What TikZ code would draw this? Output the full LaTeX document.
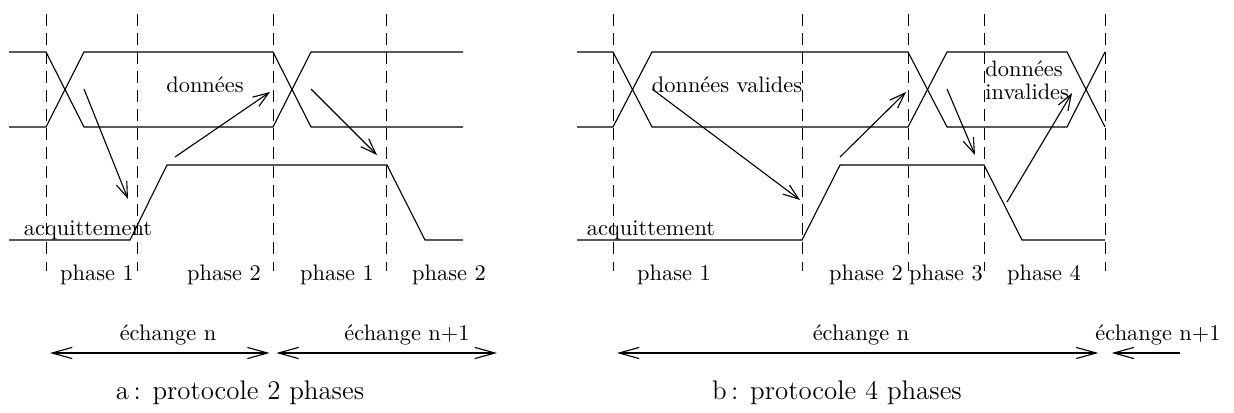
\documentclass[tikz,border=0pt]{standalone}
\usepackage{fontspec}
\usepackage{tikz}
\usetikzlibrary{arrows.meta}

\begin{document}
\begin{tikzpicture}[x=0.4464pt, y=-0.4464pt, every node/.style={inner sep=0pt, anchor=base}]
\tikzset{sig/.style={line width=0.5pt}}
\tikzset{phaseline/.style={line width=0.4pt, dash pattern=on 5.2pt off 3.3pt}}
\tikzset{flow/.style={line width=0.5pt, -{Straight Barb[length=7pt,width=5pt]}}}
\tikzset{xch/.style={line width=0.5pt, {Straight Barb[length=9pt,width=5pt]}-{Straight Barb[length=9pt,width=5pt]}}}
\tikzset{caption/.style={font=\fontsize{12}{14}\selectfont}}
\useasboundingbox (0,0) rectangle (1234,413);
% phase boundaries
\foreach \x in {46,137,273,386,613,802,908,984,1105}
  \draw[phaseline] (\x,14) -- (\x,271);
% a : 2 phases
\draw[sig] (9,52) -- (46,52) -- (84,127) -- (273,127) -- (311,52) -- (463,52);
\draw[sig] (9,127) -- (46,127) -- (84,52) -- (273,52) -- (311,127) -- (463,127);
\draw[sig] (9,240) -- (130,240) -- (167,165) -- (387,165) -- (425,240) -- (463,240);
\coordinate (a1s) at (84,89);  \coordinate (a1e) at (128,199);
\coordinate (a2s) at (175,157); \coordinate (a2e) at (270,92);
\coordinate (a3s) at (311,89); \coordinate (a3e) at (377,155);
\draw[flow] (a1s) -- (a1e);
\draw[flow] (a2s) -- (a2e);
\draw[flow] (a3s) -- (a3e);
\node (dona) at (205,93) {données};
\node (acqa) at (88,236) {acquittement};
\node (pa1) at (97,281) {phase 1};
\node (pa2) at (224,281) {phase 2};
\node (pa3) at (337,281) {phase 1};
\node (pa4) at (449,281) {phase 2};
\coordinate (xa0) at (50,353); \coordinate (xa1) at (273,353); \coordinate (xa2) at (497,353);
\draw[xch] (xa0) -- ([xshift=-1.5]xa1);
\draw[xch] ([xshift=1.5]xa1) -- (xa2);
\node (ea1) at (168,341) {échange n};
\node (ea2) at (407,341) {échange n+1};
\node[caption] (capa) at (240,399) {a\,: protocole 2 phases};
% b : 4 phases
\draw[sig] (577,52) -- (613,52) -- (652,127) -- (908,127) -- (947,52) -- (1067,52) -- (1105,127);
\draw[sig] (577,127) -- (613,127) -- (652,52) -- (908,52) -- (947,127) -- (1067,127) -- (1105,52);
\draw[sig] (577,240) -- (802,240) -- (840,165) -- (984,165) -- (1022,240) -- (1105,240);
\coordinate (b1s) at (652,89);  \coordinate (b1e) at (800,200);
\coordinate (b2s) at (840,157); \coordinate (b2e) at (906,92);
\coordinate (b3s) at (947,89);  \coordinate (b3e) at (975,155);
\coordinate (b4s) at (1007,202); \coordinate (b4e) at (1072,93);
\draw[flow] (b1s) -- (b1e);
\draw[flow] (b2s) -- (b2e);
\draw[flow] (b3s) -- (b3e);
\draw[flow] (b4s) -- (b4e);
\node (donb) at (727,93) {données valides};
\node[anchor=base west] (donc) at (985,77) {données};
\node[anchor=base west] (dond) at (985,100) {invalides};
\node (acqb) at (651,236) {acquittement};
\node (pb1) at (674,281) {phase 1};
\node (pb2) at (866,281) {phase 2};
\node (pb3) at (946,281) {phase 3};
\node (pb4) at (1044,281) {phase 4};
\coordinate (xb0) at (617,353); \coordinate (xb1) at (1105,353); \coordinate (xb2) at (1180,353);
\draw[xch] (xb0) -- ([xshift=-3]xb1);
\draw[flow, -{Straight Barb[length=9pt,width=5pt]}] (xb2) -- ([xshift=3]xb1);
\node (eb1) at (861,341) {échange n};
\node (eb2) at (1158,341) {échange n+1};
\node[caption] (capb) at (837,399) {b\,: protocole 4 phases};
\end{tikzpicture}
\end{document}
